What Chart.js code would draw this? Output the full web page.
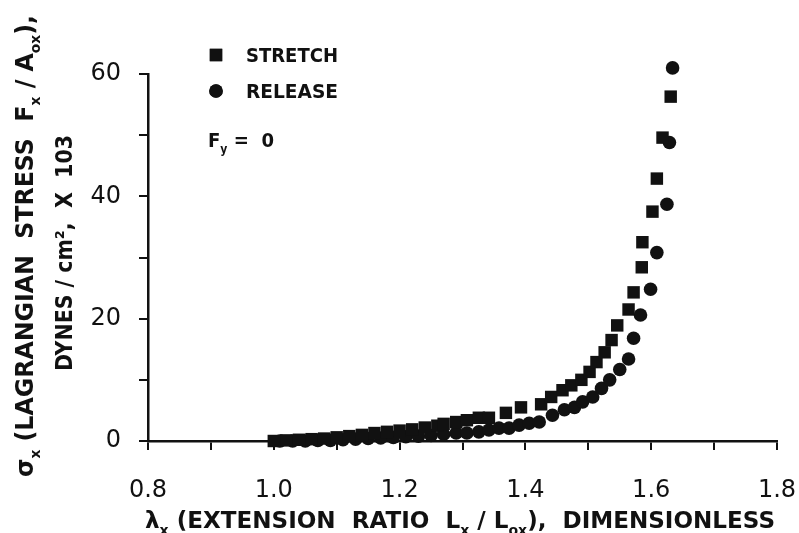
<!DOCTYPE html>
<html>
<head>
<meta charset="utf-8">
<script src="https://cdn.jsdelivr.net/npm/chart.js@4.4.1/dist/chart.umd.min.js"></script>
<style>
  html, body { margin: 0; padding: 0; background: #fff; }
  canvas { display: block; }
</style>
</head>
<body>
<canvas id="stressChart" width="799" height="533"></canvas>
<script>
// Values
const stretchLambda = [1.00, 1.02, 1.04, 1.06, 1.08, 1.10, 1.12, 1.14, 1.16, 1.18,
    1.20, 1.22, 1.24, 1.26, 1.27, 1.29, 1.307, 1.326, 1.342, 1.369,
    1.393, 1.425, 1.441, 1.459, 1.473, 1.489, 1.502, 1.513, 1.526, 1.537,
    1.546, 1.564, 1.572, 1.585, 1.586, 1.602, 1.609, 1.618, 1.631];
const stretchStress = [0.0, 0.1, 0.2, 0.3, 0.4, 0.6, 0.8, 1.0, 1.3, 1.5,
    1.7, 1.9, 2.2, 2.5, 2.8, 3.1, 3.4, 3.8, 3.8, 4.6,
    5.5, 6.0, 7.2, 8.3, 9.1, 10.0, 11.3, 12.9, 14.5, 16.5,
    18.9, 21.5, 24.3, 28.4, 32.5, 37.5, 42.9, 49.6, 56.3];

const releaseLambda = [1.01, 1.03, 1.05, 1.07, 1.09, 1.11, 1.13, 1.15, 1.17, 1.19,
    1.21, 1.23, 1.25, 1.27, 1.290, 1.307, 1.326, 1.342, 1.358, 1.374,
    1.390, 1.406, 1.422, 1.443, 1.462, 1.478, 1.491, 1.507, 1.521, 1.534,
    1.550, 1.564, 1.572, 1.583, 1.599, 1.609, 1.625, 1.629, 1.634];
const releaseStress = [0.0, 0.0, 0.0, 0.1, 0.1, 0.2, 0.3, 0.4, 0.5, 0.6,
    0.7, 0.8, 0.9, 1.1, 1.3, 1.3, 1.5, 1.8, 2.1, 2.1,
    2.6, 2.9, 3.1, 4.2, 5.1, 5.5, 6.4, 7.2, 8.6, 10.0,
    11.7, 13.4, 16.8, 20.6, 24.8, 30.8, 38.7, 48.8, 61.0];

const seriesNames = ['STRETCH', 'RELEASE'];
const xTickLabels = ['0.8', '1.0', '1.2', '1.4', '1.6', '1.8'];
const yTickLabels = ['0', '20', '40', '60'];

const ink = '#111';
const font = 'DejaVu Sans';

// draw a line of text made of [text, isSub] pieces, squeezed to a given width
function drawPieces(ctx, pieces, cx, cy, width, size, angle) {
    const subSize = Math.round(size * 0.6);
    const fontFor = p => 'bold ' + (p[1] ? subSize : size) + 'px "' + font + '"';
    let total = 0;
    const widths = pieces.map(p => {
        ctx.font = fontFor(p);
        const w = ctx.measureText(p[0]).width;
        total += w;
        return w;
    });
    ctx.save();
    ctx.translate(cx, cy);
    ctx.rotate(angle);
    ctx.scale(width / total, 1);
    ctx.fillStyle = ink;
    ctx.textBaseline = 'alphabetic';
    let x = -total / 2;
    pieces.forEach((p, i) => {
        ctx.font = fontFor(p);
        ctx.fillText(p[0], x, size * 0.36 + (p[1] ? size * 0.3 : 0));
        x += widths[i];
    });
    ctx.restore();
}

const annotations = {
    id: 'annotations',
    afterDraw(chart) {
        const ctx = chart.ctx;
        // axis titles
        drawPieces(ctx, [['λ', 0], ['x', 1], [' (EXTENSION  RATIO  L', 0], ['x', 1], [' / L', 0], ['ox', 1], ['),  DIMENSIONLESS', 0]],
            460, 520, 630, 23, 0);
        drawPieces(ctx, [['σ', 0], ['x', 1], [' (LAGRANGIAN  STRESS  F', 0], ['x', 1], [' / A', 0], ['ox', 1], ['),', 0]],
            24, 246, 462, 24, -Math.PI / 2);
        drawPieces(ctx, [['DYNES / cm²,  X  103', 0]],
            64, 253, 236, 23, -Math.PI / 2);

        // legend
        chart.data.datasets.forEach((ds, i) => {
            const y = 55 + i * 36;
            Chart.helpers.drawPoint(ctx, {
                pointStyle: ds.pointStyle, radius: ds.pointRadius, rotation: 0, borderWidth: 0
            }, 216, y);
            ctx.fillStyle = ink;
            ctx.fill();
            drawPieces(ctx, [[seriesNames[i], 0]], 292, y, 92, 19, 0);
        });
        drawPieces(ctx, [['F', 0], ['y', 1], [' =  0', 0]], 241, 140, 66, 20, 0);
    }
};

const ctx = document.getElementById('stressChart');

new Chart(ctx, {
    type: 'scatter',
    data: {
        datasets: [{
            label: seriesNames[0],
            data: stretchLambda.map((x, i) => ({ x: x, y: stretchStress[i] })),
            pointStyle: 'rect',
            pointRadius: 8.8,
            backgroundColor: ink,
            borderColor: ink,
            borderWidth: 0,
            clip: false
        }, {
            label: seriesNames[1],
            data: releaseLambda.map((x, i) => ({ x: x, y: releaseStress[i] })),
            pointStyle: 'circle',
            pointRadius: 6.8,
            backgroundColor: ink,
            borderColor: ink,
            borderWidth: 0,
            clip: false
        }]
    },
    options: {
        responsive: false,
        animation: false,
        devicePixelRatio: 1,
        layout: { padding: { top: 74, right: 22, left: 0, bottom: 0 } },
        plugins: {
            legend: { display: false },
            tooltip: { enabled: false }
        },
        scales: {
            x: {
                type: 'linear',
                min: 0.8,
                max: 1.8,
                afterFit: scale => {
                    scale.height = 92;
                    scale.paddingLeft = 0;
                    scale.paddingRight = 0;
                },
                ticks: {
                    stepSize: 0.1,
                    padding: 26,
                    color: ink,
                    font: { family: font, size: 24 },
                    maxRotation: 0,
                    autoSkip: false,
                    callback: v => {
                        const k = Math.round(v * 10);
                        return k % 2 === 0 ? xTickLabels[(k - 8) / 2] : '';
                    }
                },
                grid: { drawOnChartArea: false, drawTicks: true, tickLength: 9, color: ink, lineWidth: 2 },
                border: { color: ink, width: 2.5 }
            },
            y: {
                min: 0,
                max: 60,
                afterFit: scale => {
                    scale.width = 148;
                    scale.paddingTop = 0;
                    scale.paddingBottom = 0;
                },
                ticks: {
                    stepSize: 10,
                    padding: 18,
                    color: ink,
                    font: { family: font, size: 24 },
                    autoSkip: false,
                    callback: v => (v % 20 === 0 ? yTickLabels[v / 20] : '')
                },
                grid: { drawOnChartArea: false, drawTicks: true, tickLength: 9, color: ink, lineWidth: 2 },
                border: { color: ink, width: 2.5 }
            }
        }
    },
    plugins: [annotations]
});
</script>
</body>
</html>
